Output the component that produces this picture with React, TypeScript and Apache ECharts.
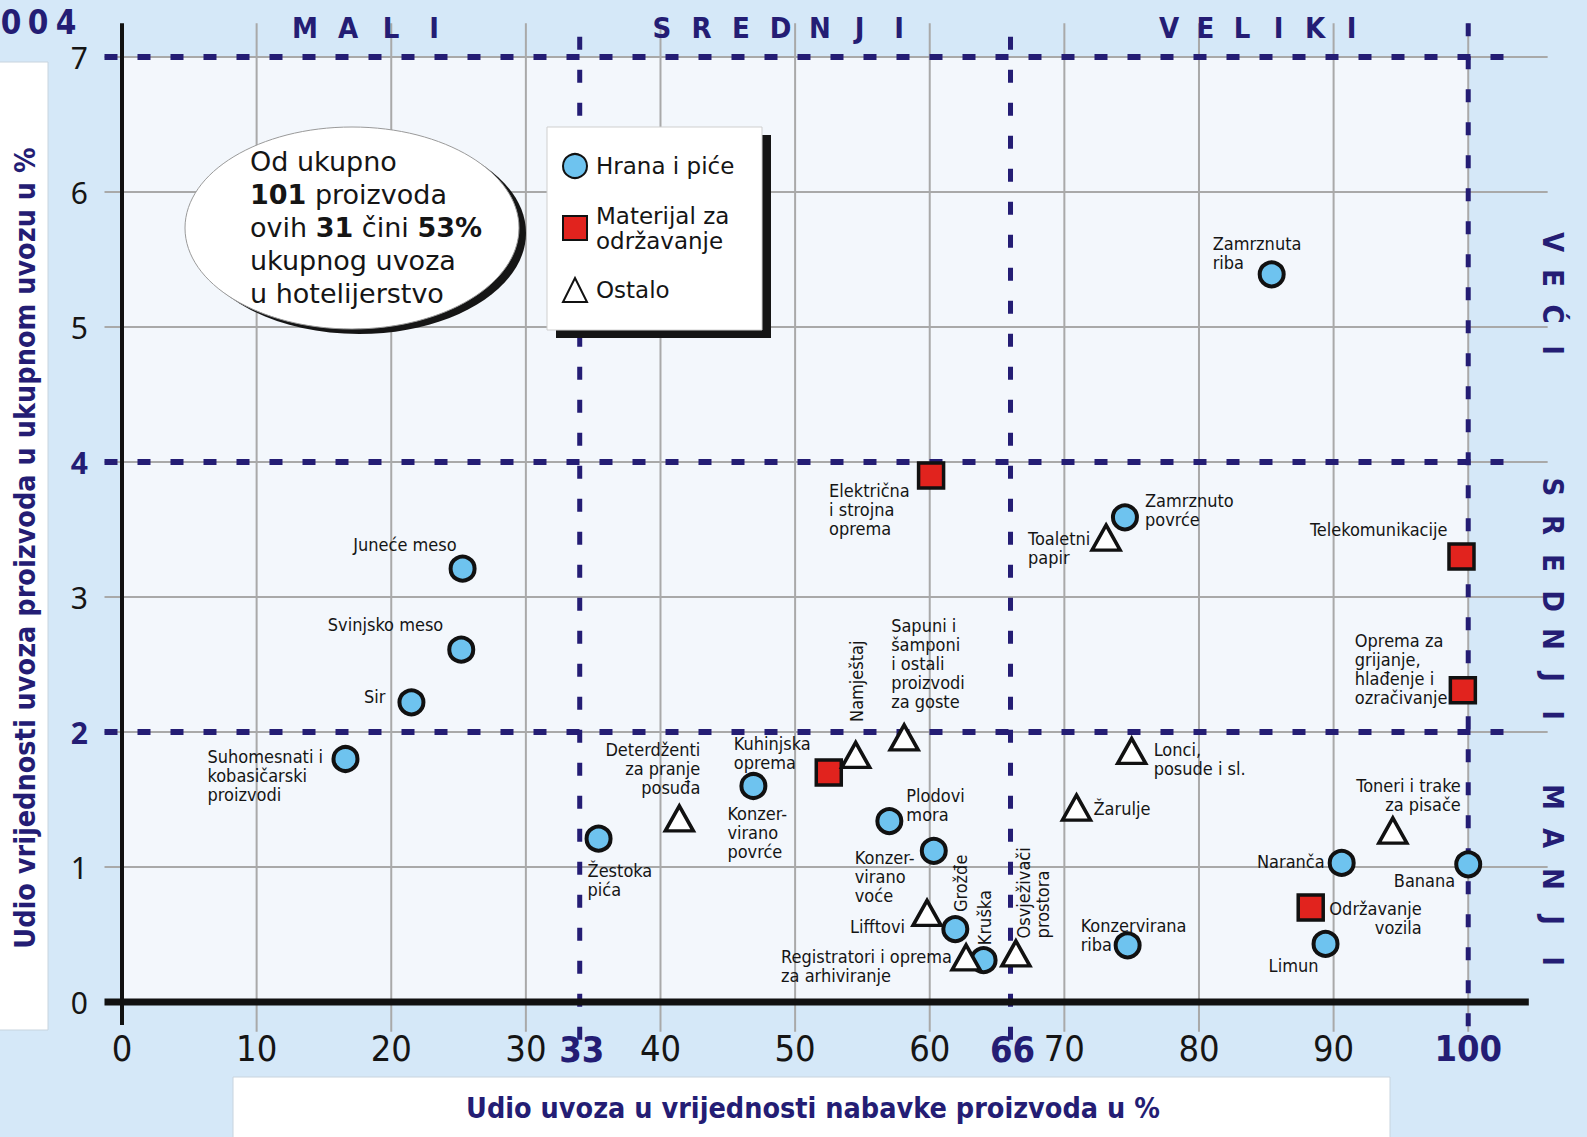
import React, { useEffect, useRef } from 'react';
import * as echarts from 'echarts';

// ---------- data ----------
const foodNames = ['Zamrznuta riba', 'Zamrznuto povrće', 'Juneće meso', 'Svinjsko meso', 'Sir', 'Suhomesnati i kobasičarski proizvodi', 'Žestoka pića', 'Konzervirano povrće', 'Plodovi mora', 'Konzervirano voće', 'Grožđe', 'Kruška', 'Konzervirana riba', 'Naranča', 'Banana', 'Limun'];
const foodX = [85.4, 74.5, 25.3, 25.2, 21.5, 16.6, 35.4, 46.9, 57.0, 60.3, 61.9, 64.0, 74.7, 90.6, 100, 89.4];
const foodY = [5.39, 3.59, 3.21, 2.61, 2.22, 1.8, 1.21, 1.6, 1.34, 1.12, 0.54, 0.31, 0.42, 1.03, 1.02, 0.43];

const matNames = ['Električna i strojna oprema', 'Telekomunikacije', 'Oprema za grijanje, hlađenje i ozračivanje', 'Kuhinjska oprema', 'Održavanje vozila'];
const matX = [60.1, 99.5, 99.6, 52.5, 88.3];
const matY = [3.9, 3.3, 2.31, 1.7, 0.7];

const otherNames = ['Toaletni papir', 'Namještaj', 'Sapuni i šamponi i ostali proizvodi za goste', 'Deterdženti za pranje posuđa', 'Lonci, posude i sl.', 'Žarulje', 'Toneri i trake za pisače', 'Lifftovi', 'Registratori i oprema za arhiviranje', 'Osvježivači prostora'];
const otherX = [73.1, 54.5, 58.1, 41.4, 75.0, 70.9, 94.4, 59.8, 62.7, 66.4];
const otherY = [3.44, 1.83, 1.96, 1.36, 1.86, 1.44, 1.27, 0.66, 0.33, 0.36];

const seriesNames = ['Hrana i piće', 'Materijal za održavanje', 'Ostalo'];
const xTicks = [0, 10, 20, 30, 40, 50, 60, 70, 80, 90, 100];
const yTicks = [0, 1, 2, 3, 4, 5, 6, 7];
const xSplitPos = [34, 66, 100];
const xSplitLabels = ['33', '66', '100'];
const ySplit = [2, 4, 7];
const xGroups = ['MALI', 'SREDNJI', 'VELIKI'];
const yGroups = ['VEĆI', 'SREDNJI', 'MANJI'];
const yearDigits = ['0', '0', '4'];

// ---------- layout (style only) ----------
const xGroupStart = [305, 662, 1169];
const xGroupStep = [43, 39.5, 36.5];
const yGroupStart = [242, 487, 797];
const yGroupStep = [36, 38, 41];
const yearPos = [11, 38, 66];

type Lay = { t: string; o: [number, number]; a?: string; v?: string; r?: boolean };
const lay: Record<string, Lay> = {
  'Zamrznuta riba': { t: 'Zamrznuta\nriba', o: [-59, -40] },
  'Zamrznuto povrće': { t: 'Zamrznuto\npovrće', o: [20, -26] },
  'Juneće meso': { t: 'Juneće meso', o: [-6, -24], a: 'right', v: 'middle' },
  'Svinjsko meso': { t: 'Svinjsko meso', o: [-18, -25], a: 'right', v: 'middle' },
  'Sir': { t: 'Sir', o: [-26, -6], a: 'right', v: 'middle' },
  'Suhomesnati i kobasičarski proizvodi': { t: 'Suhomesnati i\nkobasičarski\nproizvodi', o: [-138, -12] },
  'Žestoka pića': { t: 'Žestoka\npića', o: [-11, 22] },
  'Konzervirano povrće': { t: 'Konzer-\nvirano\npovrće', o: [-26, 18] },
  'Plodovi mora': { t: 'Plodovi\nmora', o: [17, -35] },
  'Konzervirano voće': { t: 'Konzer-\nvirano\nvoće', o: [-79, -3] },
  'Grožđe': { t: 'Grožđe', o: [17, 5], v: 'middle', r: true },
  'Kruška': { t: 'Kruška', o: [15, 1], v: 'middle', r: true },
  'Konzervirana riba': { t: 'Konzervirana\nriba', o: [-47, -29] },
  'Naranča': { t: 'Naranča', o: [-17, -1], a: 'right', v: 'middle' },
  'Banana': { t: 'Banana', o: [-13, 16], a: 'right', v: 'middle' },
  'Limun': { t: 'Limun', o: [-32, 22], a: 'center', v: 'middle' },
  'Električna i strojna oprema': { t: 'Električna\ni strojna\noprema', o: [-102, 5] },
  'Telekomunikacije': { t: 'Telekomunikacije', o: [-14, -27], a: 'right', v: 'middle' },
  'Oprema za grijanje, hlađenje i ozračivanje': { t: 'Oprema za\ngrijanje,\nhlađenje i\nozračivanje', o: [-108, -59] },
  'Kuhinjska oprema': { t: 'Kuhinjska\noprema', o: [-95, -39] },
  'Održavanje vozila': { t: 'Održavanje\nvozila', o: [111, -9], a: 'right' },
  'Toaletni papir': { t: 'Toaletni\npapir', o: [-78, -9] },
  'Namještaj': { t: 'Namještaj', o: [33, 1], v: 'middle', r: true },
  'Sapuni i šamponi i ostali proizvodi za goste': { t: 'Sapuni i\nšamponi\ni ostali\nproizvodi\nza goste', o: [-13, -121] },
  'Deterdženti za pranje posuđa': { t: 'Deterdženti\nza pranje\nposuđa', o: [21, -78], a: 'right' },
  'Lonci, posude i sl.': { t: 'Lonci,\nposude i sl.', o: [22, -11] },
  'Žarulje': { t: 'Žarulje', o: [17, 1], v: 'middle' },
  'Toneri i trake za pisače': { t: 'Toneri i trake\nza pisače', o: [68, -55], a: 'right' },
  'Lifftovi': { t: 'Lifftovi', o: [-22, 14], a: 'right', v: 'middle' },
  'Registratori i oprema za arhiviranje': { t: 'Registratori i oprema\nza arhiviranje', o: [-185, -10] },
  'Osvježivači prostora': { t: 'Osvježivači\nprostora', o: [15, 17], v: 'middle', r: true },
};

const NAVY = '#241d74';
const NARROW = "'Liberation Sans Narrow', 'DejaVu Sans Condensed', 'Liberation Sans', sans-serif";
const COND = "'DejaVu Sans Condensed', 'Liberation Sans Narrow', 'DejaVu Sans', sans-serif";
const GEO = "'Noto Sans', 'DejaVu Sans', sans-serif";
const ROUND = "'DejaVu Sans', 'Noto Sans', sans-serif";

function points(names: string[], xs: number[], ys: number[]) {
  return names.map((n, i) => {
    const l = lay[n];
    return {
      name: n,
      value: [xs[i], ys[i]],
      label: {
        show: true,
        position: 'inside',
        formatter: l.t,
        offset: l.o,
        align: l.a || 'left',
        verticalAlign: l.v || 'top',
        rotate: l.r ? 90 : 0,
        color: '#151515',
        fontSize: 18,
        lineHeight: 19,
        fontFamily: NARROW,
        textBorderWidth: 0,
      },
    };
  });
}

const letterStyle = (t: string, size = 29) => ({
  text: t, fill: NAVY, fontSize: size, fontWeight: 'bold', fontFamily: COND,
  align: 'center', textAlign: 'center', verticalAlign: 'middle', textVerticalAlign: 'middle',
});

export default function App() {
  const ref = useRef<HTMLDivElement>(null);
  useEffect(() => {
    document.body.style.margin = '0';
    const chart = echarts.init(ref.current!, undefined, { renderer: 'svg' });
    const groupLetters: any[] = [];
    xGroups.forEach((g, gi) => {
      g.split('').forEach((ch, k) => {
        groupLetters.push({ type: 'text', x: xGroupStart[gi] + k * xGroupStep[gi], y: 28, z: 10, style: letterStyle(ch) });
      });
    });
    yGroups.forEach((g, gi) => {
      g.split('').forEach((ch, k) => {
        groupLetters.push({ type: 'text', x: 1553, y: yGroupStart[gi] + k * yGroupStep[gi], rotation: -Math.PI / 2, z: 10, style: letterStyle(ch) });
      });
    });
    yearDigits.forEach((d, k) => {
      groupLetters.push({ type: 'text', x: yearPos[k], y: 22, z: 10, style: letterStyle(d, 33) });
    });
    const option: any = {
      animation: false,
      backgroundColor: '#d5e8f8',
      grid: { left: 122, right: 38, top: 23.25, bottom: 135 },
      xAxis: {
        type: 'value', min: 0, max: 106, interval: 10,
        axisLine: { show: false }, axisTick: { show: false }, splitLine: { show: false },
        axisLabel: {
          margin: 28, fontSize: 36, color: '#151515', fontFamily: NARROW,
          formatter: (v: number) => (v === 100 ? '{b|100}' : xTicks.includes(v) ? String(v) : ''),
          rich: { b: { fontSize: 36, fontWeight: 'bold', color: NAVY, fontFamily: NARROW } },
        },
      },
      yAxis: {
        type: 'value', min: 0, max: 7.25, interval: 1,
        axisLine: { show: false }, axisTick: { show: false }, splitLine: { show: false },
        axisLabel: {
          margin: 34, fontSize: 30, color: '#151515', fontFamily: GEO,
          formatter: (v: number) => (!yTicks.includes(v) ? '' : v === 2 || v === 4 ? '{b|' + v + '}' : String(v)),
          rich: { b: { fontSize: 30, fontWeight: 'bold', color: NAVY, fontFamily: GEO } },
        },
      },
      legend: {
        data: seriesNames,
        orient: 'vertical', left: 557, top: 148, z: 20,
        itemWidth: 24, itemHeight: 24, itemGap: 24,
        formatter: (n: string) => (n === 'Materijal za održavanje' ? 'Materijal za\nodržavanje' : n),
        textStyle: { fontSize: 23, lineHeight: 25, color: '#151515', fontFamily: ROUND, padding: [0, 0, 0, 4] },
        selectedMode: false,
      },
      graphic: [
        ...groupLetters,
        // legend box
        { type: 'rect', z: 10, shape: { x: 556, y: 135, width: 215, height: 203 }, style: { fill: '#151515' } },
        { type: 'rect', z: 11, shape: { x: 547, y: 127, width: 215, height: 203 }, style: { fill: '#ffffff', stroke: '#cfcfcf', lineWidth: 1 } },
        // ellipse note
        { type: 'ellipse', z: 10, shape: { cx: 359, cy: 233, rx: 167, ry: 101 }, style: { fill: '#151515' } },
        { type: 'ellipse', z: 11, shape: { cx: 352, cy: 228, rx: 167, ry: 101 }, style: { fill: '#ffffff', stroke: '#9a9a9a', lineWidth: 1 } },
        {
          type: 'text', x: 250, y: 145, z: 12,
          style: {
            text: 'Od ukupno\n{b|101} proizvoda\novih {b|31} čini {b|53%}\nukupnog uvoza\nu hotelijerstvo',
            fill: '#151515', fontSize: 27, lineHeight: 33, fontFamily: ROUND,
            rich: { b: { fontSize: 27, lineHeight: 33, fontWeight: 'bold', fontFamily: ROUND, fill: '#151515', color: '#151515' } },
          },
        },
        // y title
        { type: 'rect', z: 10, shape: { x: -2, y: 62, width: 50, height: 968 }, style: { fill: '#ffffff', stroke: '#c8d4de', lineWidth: 1 } },
        { type: 'text', x: 25, y: 548, rotation: Math.PI / 2, z: 11, style: { text: 'Udio vrijednosti uvoza proizvoda u ukupnom uvozu u %', fill: NAVY, fontSize: 28.5, fontWeight: 'bold', fontFamily: COND, align: 'center', textAlign: 'center', verticalAlign: 'middle', textVerticalAlign: 'middle' } },
        // x title
        { type: 'rect', z: 10, shape: { x: 233, y: 1077, width: 1157, height: 70 }, style: { fill: '#ffffff', stroke: '#c8d4de', lineWidth: 1 } },
        { type: 'text', x: 813, y: 1108, z: 11, style: { text: 'Udio uvoza u vrijednosti nabavke proizvoda u %', fill: NAVY, fontSize: 28.5, fontWeight: 'bold', fontFamily: COND, align: 'center', textAlign: 'center', verticalAlign: 'middle', textVerticalAlign: 'middle' } },
      ],
      series: [
        {
          type: 'custom', name: 'frame', z: 1, silent: true, clip: false,
          data: [[0, 0]],
          renderItem: (_p: any, api: any) => {
            const c = (x: number, y: number) => api.coord([x, y]);
            const ln = (x1: number, y1: number, x2: number, y2: number, style: any) => {
              const a = c(x1, y1), b = c(x2, y2);
              return { type: 'line', shape: { x1: a[0], y1: a[1], x2: b[0], y2: b[1] }, style };
            };
            const tl = c(0, 7), br = c(100, 0);
            const children: any[] = [
              { type: 'rect', shape: { x: tl[0], y: tl[1], width: br[0] - tl[0], height: br[1] - tl[1] }, style: { fill: '#f3f7fc' } },
            ];
            const gray = { stroke: '#a9a9a9', lineWidth: 2 };
            yTicks.slice(1).forEach((y) => children.push(ln(-1.3, y, 105.9, y, gray)));
            xTicks.slice(1).forEach((x) => children.push(ln(x, -0.22, x, 7.25, gray)));
            const dashH = { stroke: NAVY, lineWidth: 6, lineDash: [13, 20] };
            const dashV = { stroke: NAVY, lineWidth: 5, lineDash: [13, 20] };
            ySplit.forEach((y) => children.push(ln(-1.3, y, 103.2, y, dashH)));
            xSplitPos.forEach((x) => children.push(ln(x, x === 100 ? 7.25 : 7.15, x, -0.32, dashV)));
            children.push(ln(-1.3, 0, 104.5, 0, { stroke: '#111', lineWidth: 7 }));
            children.push(ln(0, -0.17, 0, 7.25, { stroke: '#111', lineWidth: 4 }));
            xSplitPos.slice(0, 2).forEach((x, i) => {
              const p = c(x, 0);
              children.push({ type: 'text', style: { x: p[0] + 2, y: p[1] + 29, text: xSplitLabels[i], fill: NAVY, fontSize: 36, fontWeight: 'bold', fontFamily: NARROW, align: 'center', verticalAlign: 'top', textAlign: 'center', textVerticalAlign: 'top' } });
            });
            return { type: 'group', children };
          },
        },
        {
          type: 'scatter', name: seriesNames[0], z: 3,
          symbol: 'circle', symbolSize: 24,
          itemStyle: { color: '#6ec3ef', borderColor: '#111', borderWidth: 4, opacity: 1 },
          data: points(foodNames, foodX, foodY),
        },
        {
          type: 'scatter', name: seriesNames[1], z: 3,
          symbol: 'rect', symbolSize: 25,
          itemStyle: { color: '#e1231e', borderColor: '#111', borderWidth: 3.5, opacity: 1 },
          data: points(matNames, matX, matY),
        },
        {
          type: 'scatter', name: seriesNames[2], z: 3,
          symbol: 'triangle', symbolSize: [28, 25],
          itemStyle: { color: '#ffffff', borderColor: '#111', borderWidth: 3.5, opacity: 1 },
          data: points(otherNames, otherX, otherY),
        },
      ],
    };
    chart.setOption(option);
    return () => chart.dispose();
  }, []);
  return <div ref={ref} style={{ position: 'fixed', left: 0, top: 0, width: 1587, height: 1137 }} />;
}
